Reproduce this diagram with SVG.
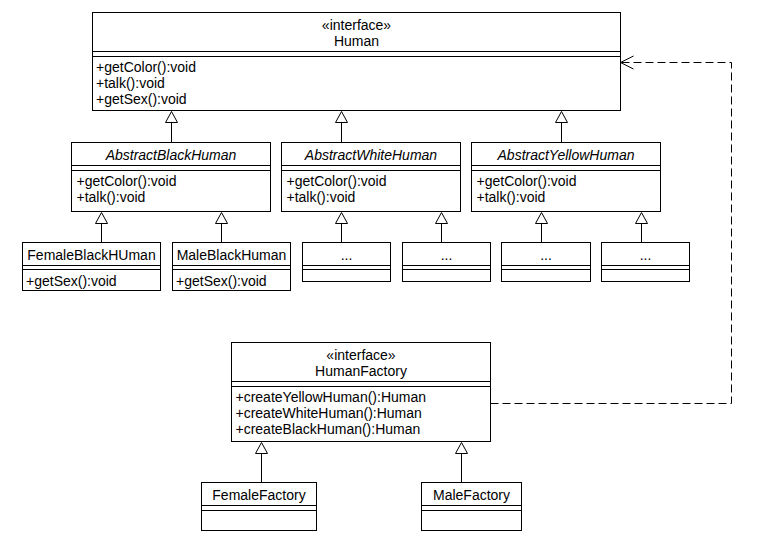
<svg xmlns="http://www.w3.org/2000/svg" width="769" height="544" viewBox="0 0 769 544">
<defs>
<style>
.box{fill:#fff;stroke:#000;stroke-width:1}
.sep{stroke:#000;stroke-width:1;fill:none}
text{font-family:"Liberation Sans",Arial,sans-serif;font-size:14px;fill:#000}
.c{text-anchor:middle}
.i{font-style:italic}
.edge{stroke:#000;stroke-width:1;fill:none}
.tri{fill:#fff;stroke:#000;stroke-width:1}
.dash{stroke:#000;stroke-width:1;fill:none;stroke-dasharray:8 4}
</style>
</defs>
<rect width="769" height="544" fill="#fff"/>

<g id="connectors">
<!-- Human generalizations -->
<path class="edge" d="M171.5 122.5V142.5M341.5 122.5V142.5M561.5 122.5V142.5"/>
<path class="tri" d="M171.5 111.5L165.5 122.5H177.5Z"/>
<path class="tri" d="M341.5 111.5L335.5 122.5H347.5Z"/>
<path class="tri" d="M561.5 111.5L555.5 122.5H567.5Z"/>
<!-- child generalizations -->
<path class="edge" d="M101.5 223.5V242.5M221.5 223.5V242.5M341.5 223.5V242.5M441.5 223.5V242.5M541.5 223.5V242.5M641.5 223.5V242.5"/>
<path class="tri" d="M101.5 212.5L95.5 223.5H107.5Z"/>
<path class="tri" d="M221.5 212.5L215.5 223.5H227.5Z"/>
<path class="tri" d="M341.5 212.5L335.5 223.5H347.5Z"/>
<path class="tri" d="M441.5 212.5L435.5 223.5H447.5Z"/>
<path class="tri" d="M541.5 212.5L535.5 223.5H547.5Z"/>
<path class="tri" d="M641.5 212.5L635.5 223.5H647.5Z"/>
<!-- factory generalizations -->
<path class="edge" d="M261.5 453.5V482.5M461.5 453.5V482.5"/>
<path class="tri" d="M261.5 442.5L255.5 453.5H267.5Z"/>
<path class="tri" d="M461.5 442.5L455.5 453.5H467.5Z"/>
<!-- dependency -->
<path class="dash" d="M490.5 403.5H731.5V62.5H621"/>
<path class="edge" d="M633.5 56L620.5 62.5L633.5 69"/>
</g>

<g id="Human">
<rect class="box" x="92.5" y="12.5" width="528" height="98"/>
<path class="sep" d="M92.5 51.5H620.5M92.5 56.5H620.5"/>
<text class="c" x="356.5" y="29.5">«interface»</text>
<text class="c" x="356.5" y="45.5">Human</text>
<text x="96" y="71.5">+getColor():void</text>
<text x="96" y="87.5">+talk():void</text>
<text x="96" y="103.5">+getSex():void</text>
</g>

<g id="AbstractBlackHuman">
<rect class="box" x="71.5" y="142.5" width="199" height="69"/>
<path class="sep" d="M71.5 165.5H270.5M71.5 170.5H270.5"/>
<text class="c i" x="171" y="159.5">AbstractBlackHuman</text>
<text x="76.5" y="186">+getColor():void</text>
<text x="76.5" y="202">+talk():void</text>
</g>

<g id="AbstractWhiteHuman">
<rect class="box" x="281.5" y="142.5" width="179" height="69"/>
<path class="sep" d="M281.5 165.5H460.5M281.5 170.5H460.5"/>
<text class="c i" x="371" y="159.5">AbstractWhiteHuman</text>
<text x="286.5" y="186">+getColor():void</text>
<text x="286.5" y="202">+talk():void</text>
</g>

<g id="AbstractYellowHuman">
<rect class="box" x="471.5" y="142.5" width="189" height="69"/>
<path class="sep" d="M471.5 165.5H660.5M471.5 170.5H660.5"/>
<text class="c i" x="566" y="159.5">AbstractYellowHuman</text>
<text x="476.5" y="186">+getColor():void</text>
<text x="476.5" y="202">+talk():void</text>
</g>

<g id="FemaleBlackHUman">
<rect class="box" x="22.5" y="242.5" width="138" height="48"/>
<path class="sep" d="M22.5 265.5H160.5M22.5 269.5H160.5"/>
<text class="c" x="91.5" y="260">FemaleBlackHUman</text>
<text x="26" y="285.5">+getSex():void</text>
</g>

<g id="MaleBlackHuman">
<rect class="box" x="172.5" y="242.5" width="118" height="48"/>
<path class="sep" d="M172.5 265.5H290.5M172.5 269.5H290.5"/>
<text class="c" x="231.5" y="260">MaleBlackHuman</text>
<text x="176" y="285.5">+getSex():void</text>
</g>

<g id="WhiteChild1">
<rect class="box" x="302.5" y="242.5" width="88" height="39"/>
<path class="sep" d="M302.5 265.5H390.5M302.5 269.5H390.5"/>
<text class="c" x="346.5" y="260">...</text>
</g>

<g id="WhiteChild2">
<rect class="box" x="402.5" y="242.5" width="88" height="39"/>
<path class="sep" d="M402.5 265.5H490.5M402.5 269.5H490.5"/>
<text class="c" x="446.5" y="260">...</text>
</g>

<g id="YellowChild1">
<rect class="box" x="501.5" y="242.5" width="89" height="39"/>
<path class="sep" d="M501.5 265.5H590.5M501.5 269.5H590.5"/>
<text class="c" x="546" y="260">...</text>
</g>

<g id="YellowChild2">
<rect class="box" x="601.5" y="242.5" width="88" height="39"/>
<path class="sep" d="M601.5 265.5H689.5M601.5 269.5H689.5"/>
<text class="c" x="645.5" y="260">...</text>
</g>

<g id="HumanFactory">
<rect class="box" x="231.5" y="342.5" width="259" height="99"/>
<path class="sep" d="M231.5 381.5H490.5M231.5 386.5H490.5"/>
<text class="c" x="361" y="359.5">«interface»</text>
<text class="c" x="361" y="376">HumanFactory</text>
<text x="235.5" y="401.5">+createYellowHuman():Human</text>
<text x="235.5" y="417.5">+createWhiteHuman():Human</text>
<text x="235.5" y="433.5">+createBlackHuman():Human</text>
</g>

<g id="FemaleFactory">
<rect class="box" x="201.5" y="482.5" width="115" height="48"/>
<path class="sep" d="M201.5 505.5H316.5M201.5 510.5H316.5"/>
<text class="c" x="259" y="500">FemaleFactory</text>
</g>

<g id="MaleFactory">
<rect class="box" x="421.5" y="482.5" width="100" height="48"/>
<path class="sep" d="M421.5 505.5H521.5M421.5 510.5H521.5"/>
<text class="c" x="471.5" y="500">MaleFactory</text>
</g>
</svg>
